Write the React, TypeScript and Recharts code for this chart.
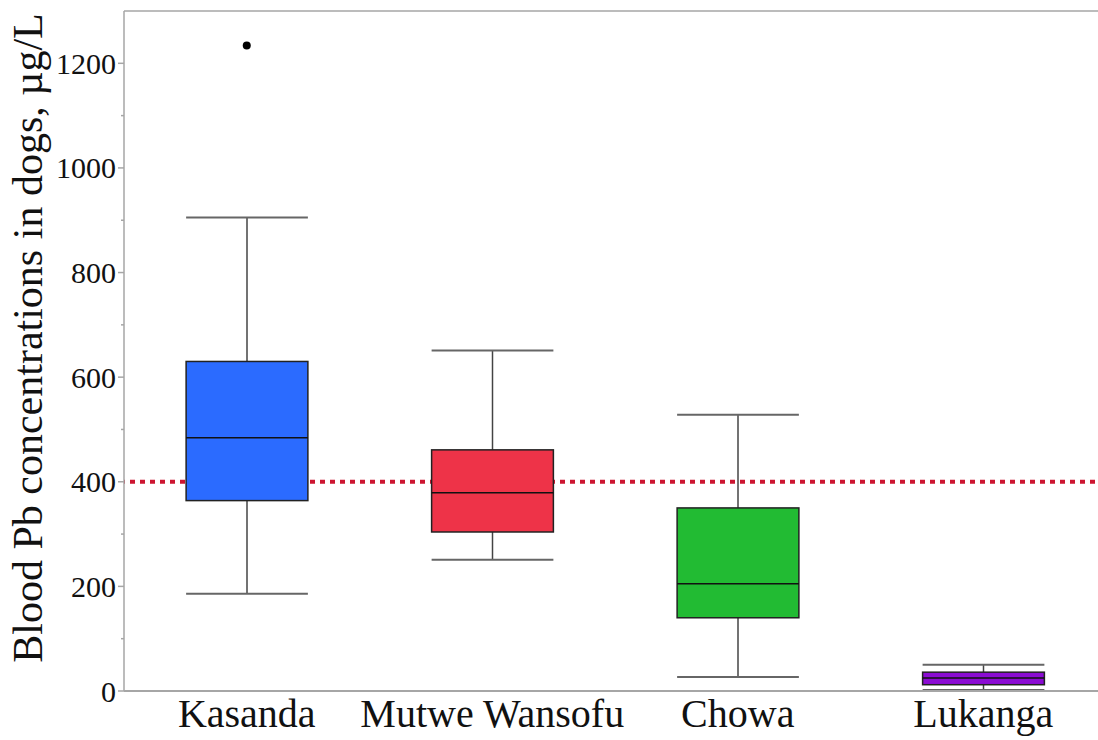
import React from 'react';
import {
  ComposedChart,
  Bar,
  Scatter,
  XAxis,
  YAxis,
  ReferenceLine,
} from 'recharts';

// box plot values (µg/L)
const sites = ['Kasanda', 'Mutwe Wansofu', 'Chowa', 'Lukanga'];
const whiskerLow = [186, 251, 27, 2];
const q1 = [364, 304, 140, 12];
const median = [484, 379, 205, 25];
const q3 = [630, 461, 350, 36];
const whiskerHigh = [905, 651, 528, 50];
const outliers = [1234, null, null, null];
const boxColors = ['#2b6bff', '#ee3348', '#22bb33', '#8b0cd3'];

const yTicks = [0, 100, 200, 300, 400, 500, 600, 700, 800, 900, 1000, 1100, 1200, 1300];
const threshold = 400;

const FONT = '"Liberation Serif", "Times New Roman", Times, serif';
const AXIS_GRAY = '#a6a6a6';

const data = sites.map((name, i) => ({
  name,
  low: whiskerLow[i],
  q1: q1[i],
  median: median[i],
  q3: q3[i],
  high: whiskerHigh[i],
  outlier: outliers[i],
  color: boxColors[i],
}));

// the bar spans the whole category band over [low, high]; the limit segment for the band
// goes first so the box covers it, then whiskers, box and median in the middle half
const BoxShape = (props: any) => {
  const { x, y, width, height, payload } = props;
  if (x == null || y == null) return null;
  const top = Math.min(y, y + height);
  const h = Math.abs(height);
  const span = payload.high - payload.low || 1;
  const py = (v: number) => top + ((payload.high - v) / span) * h;
  const bw = width * 0.495;
  const bx = x + (width - bw) / 2;
  const cx = x + width / 2;
  const yq1 = py(payload.q1);
  const yq3 = py(payload.q3);
  const ymed = py(payload.median);
  const ylim = py(threshold);
  return (
    <g>
      <line
        x1={x}
        x2={x + width}
        y1={ylim}
        y2={ylim}
        stroke="#cc1530"
        strokeWidth={4}
        strokeDasharray="5 5"
        strokeDashoffset={x % 10}
      />
      <line x1={cx} x2={cx} y1={top} y2={yq3} stroke="#444" strokeWidth={1.5} />
      <line x1={cx} x2={cx} y1={yq1} y2={top + h} stroke="#444" strokeWidth={1.5} />
      <line x1={bx} x2={bx + bw} y1={top} y2={top} stroke="#666" strokeWidth={2} />
      <line x1={bx} x2={bx + bw} y1={top + h} y2={top + h} stroke="#666" strokeWidth={2} />
      <rect x={bx} y={yq3} width={bw} height={yq1 - yq3} fill={payload.color} stroke="#222" strokeWidth={1.5} />
      <line x1={bx} x2={bx + bw} y1={ymed} y2={ymed} stroke="#111" strokeWidth={1.5} />
    </g>
  );
};

const YTick = (props: any) => {
  const { x, y, payload } = props;
  const major = payload.value % 200 === 0 && payload.value <= 1200;
  const axisX = x + 8;
  return (
    <g>
      {payload.value < 1300 && (
        <line x1={axisX - (major ? 6 : 3)} x2={axisX} y1={y} y2={y} stroke={AXIS_GRAY} strokeWidth={1.5} />
      )}
      {major && (
        <text x={axisX - 8} y={y} dy="0.35em" textAnchor="end" style={{ fontFamily: FONT, fontSize: 30 }} fill="#111">
          {payload.value}
        </text>
      )}
    </g>
  );
};

const XTick = (props: any) => {
  const { x, y, payload } = props;
  return (
    <text x={x} y={y} dy="0.71em" textAnchor="middle" style={{ fontFamily: FONT, fontSize: 40 }} fill="#111">
      {payload.value}
    </text>
  );
};

const YLabel = () => (
  <text
    x={42}
    y={338}
    transform="rotate(-90, 42, 338)"
    textAnchor="middle"
    style={{ fontFamily: FONT, fontSize: 42 }}
    fill="#111"
  >
    Blood Pb concentrations in dogs, µg/L
  </text>
);

export default function App() {
  return (
    <div style={{ position: 'absolute', left: 0, top: 0, width: 1098, height: 740, overflow: 'hidden', background: '#fff', fontFamily: FONT }}>
      <ComposedChart
        width={1106}
        height={740}
        data={data}
        margin={{ top: 11, right: 0, left: 44, bottom: 0 }}
        barCategoryGap={0}
        barGap={0}
      >
        <XAxis
          dataKey="name"
          tickLine={false}
          tickSize={0}
          tickMargin={8}
          height={49}
          axisLine={{ stroke: AXIS_GRAY, strokeWidth: 2 }}
          tick={<XTick />}
        />
        <YAxis
          width={80}
          domain={[0, 1300]}
          ticks={yTicks}
          interval={0}
          tickLine={false}
          tickSize={6}
          tickMargin={2}
          axisLine={{ stroke: AXIS_GRAY, strokeWidth: 1.5 }}
          tick={<YTick />}
          label={<YLabel />}
        />
        <ReferenceLine y={1300} stroke={AXIS_GRAY} strokeWidth={1.5} />
        <Bar
          dataKey={(d: any) => [d.low, d.high]}
          shape={<BoxShape />}
          isAnimationActive={false}
        />
        <Scatter
          dataKey="outlier"
          fill="#000"
          shape={(p: any) => (p.cx != null && p.cy != null ? <circle cx={p.cx} cy={p.cy} r={4} fill="#000" /> : <g />)}
          isAnimationActive={false}
        />
      </ComposedChart>
    </div>
  );
}
